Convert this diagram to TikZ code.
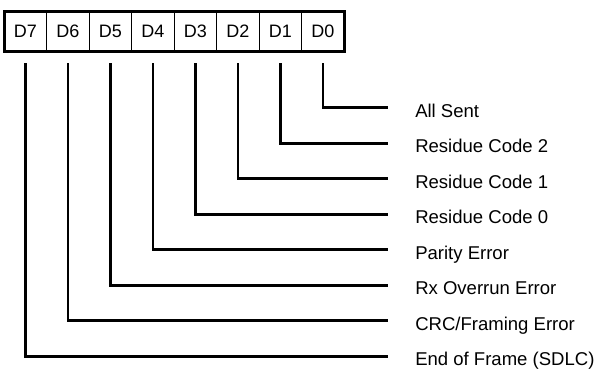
\documentclass[tikz,border=0pt]{standalone}
\usepackage{fontspec}
\setmainfont{Liberation Sans}

\begin{document}
\begin{tikzpicture}[x=0.75pt,y=-0.75pt,
    bitcell/.style={draw,line width=0.9pt,minimum width=31.875pt,minimum height=30pt,
      inner sep=0pt,outer sep=0pt,font=\fontsize{13.5}{16}\selectfont},
    flag/.style={anchor=west,inner sep=0pt,text height=14.2pt,text depth=0pt,
      font=\fontsize{13.9}{16}\selectfont},
    wire/.style={line width=2pt}]
  \useasboundingbox (0,0) rectangle (599,368);

  % register bits
  \foreach \n [count=\k from 0] in {7,...,0}
    \node[bitcell] (b\n) at (25.45+42.5*\k,31.5) {D\n};
  \draw[line width=2.5pt] (b7.north west) rectangle (b0.south east);

  % meaning of each bit
  \foreach \n/\txt [count=\k from 0] in {0/{All Sent},1/{Residue Code 2},
      2/{Residue Code 1},3/{Residue Code 0},4/{Parity Error},
      5/{Rx Overrun Error},6/{CRC/Framing Error},7/{End of Frame (SDLC)}}
  {
    \node[flag] (f\n) at (415,107.7+35.5*\k) {\txt};
    \coordinate (t\n) at ([yshift=-8.85pt]b\n.south);
    \draw[wire] (t\n) |- ([xshift=-20.25pt]f\n.west);
  }
\end{tikzpicture}
\end{document}
